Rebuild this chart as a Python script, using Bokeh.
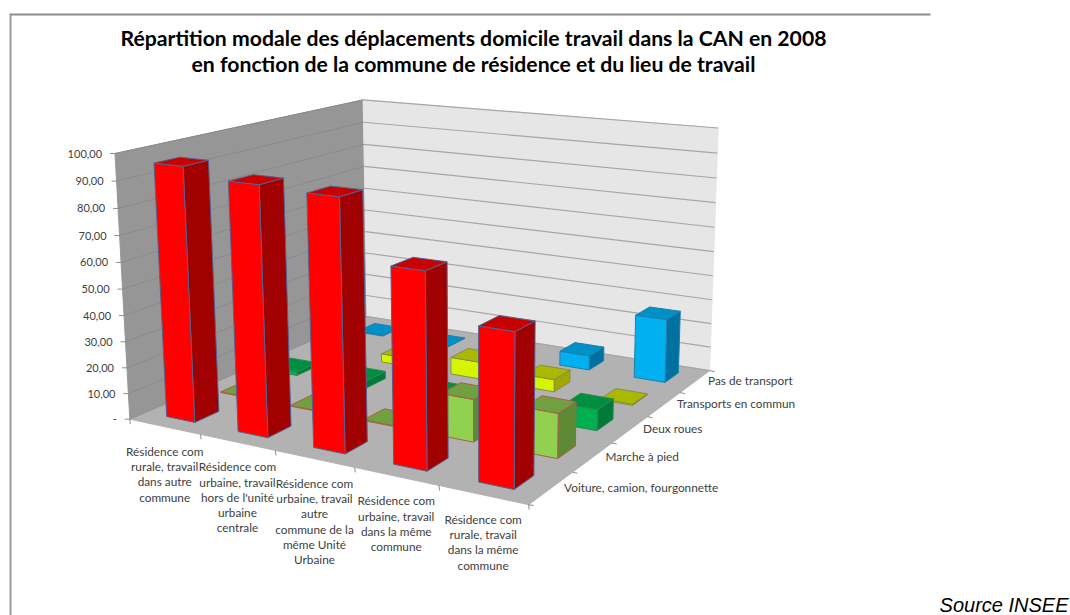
import numpy as np
from bokeh.plotting import figure
from bokeh.embed import file_html
from bokeh.resources import INLINE
from bokeh.core.properties import value

categories = [
    "Résidence com\nrurale, travail\ndans autre\ncommune",
    "Résidence com\nurbaine, travail\nhors de l'unité\nurbaine\ncentrale",
    "Résidence com\nurbaine, travail\nautre\ncommune de la\nmême Unité\nUrbaine",
    "Résidence com\nurbaine, travail\ndans la même\ncommune",
    "Résidence com\nrurale, travail\ndans la même\ncommune",
]
series_names = ["Voiture, camion, fourgonnette", "Marche à pied", "Deux roues",
                "Transports en commun", "Pas de transport"]
voiture = [96.0, 92.5, 91.5, 70.0, 54.0]
marche = [0.3, 0.3, 0.3, 16.0, 16.5]
deux_roues = [1.5, 3.0, 3.0, 2.0, 8.0]
transports = [1.0, 3.5, 7.0, 5.0, 0.5]
pas_de_transport = [0.3, 0.3, 0.3, 6.0, 26.0]
tick_labels = ["-", "10,00", "20,00", "30,00", "40,00", "50,00", "60,00", "70,00", "80,00", "90,00", "100,00"]
tick_values = [0, 10, 20, 30, 40, 50, 60, 70, 80, 90, 100]
title_lines = ["Répartition modale des déplacements domicile travail dans la CAN en 2008",
               "en fonction de la commune de résidence et du lieu de travail"]
source_text = "Source INSEE"

series_values = [voiture, marche, deux_roues, transports, pas_de_transport]
face_colors = [("#FF0000", "#A00000", "#C80000"), ("#92D050", "#5F8A35", "#70A040"),
               ("#00B050", "#007A38", "#008F40"), ("#D4F500", "#A0A800", "#A9B800"),
               ("#00B0F0", "#0070A0", "#0090C8")]
edge_colors = ["#55608F", "#A8604A", "#2E8B57", "#8A8A50", "#2080A8"]

# camera calibration: (category, depth, value) -> page pixel
calib = [((0, 0, 0), (129, 418)), ((0, 0, 100), (115, 153)), ((5, 0, 0), (528, 505)),
         ((0, 5, 0), (367, 317)), ((0, 5, 100), (362, 99)), ((5, 5, 0), (709, 369)),
         ((5, 5, 100), (718, 128))]
A, b = [], []
for (X, Y, Z), (u, v) in calib:
    Z = Z / 20.0
    A.append([X, Y, Z, 1, 0, 0, 0, 0, -u * X, -u * Y, -u * Z]); b.append(u)
    A.append([0, 0, 0, 0, X, Y, Z, 1, -v * X, -v * Y, -v * Z]); b.append(v)
sol = np.linalg.lstsq(np.array(A, float), np.array(b, float), rcond=None)[0]
P = np.append(sol, 1.0).reshape(3, 4)

def proj(x, y, z):
    h = P @ np.array([x, y, z / 20.0, 1.0])
    return h[0] / h[2], h[1] / h[2]

def face(pts):
    q = [proj(*t) for t in pts]
    return [a for a, _ in q], [c for _, c in q]

W, H = 1070, 615
p = figure(width=W, height=H, x_range=(0, W), y_range=(H, 0), toolbar_location=None,
           output_backend="svg", min_border=0, outline_line_color=None)
p.axis.visible = False
p.grid.visible = False
p.xaxis.visible = False
p.yaxis.visible = False

n = len(categories)
m = len(series_names)
# chart frame
p.line([10, 10], [13, 615], line_color="#9A9A9A", line_width=2)
p.line([10, 930], [14, 14], line_color="#8C8C8C", line_width=2)

# walls and floor
def poly(pts, fill, line=None, lw=1):
    xs, ys = face(pts)
    p.patch(xs, ys, fill_color=fill, line_color=line if line else fill, line_width=lw)

poly([(0, 0, 0), (0, m, 0), (0, m, 100), (0, 0, 100)], "#969696")
poly([(0, m, 0), (n, m, 0), (n, m, 100), (0, m, 100)], "#E6E6E6")
poly([(0, 0, 0), (n, 0, 0), (n, m, 0), (0, m, 0)], "#B2B2B2")

for t in tick_values:
    xs, ys = face([(0, 0, t), (0, m, t)])
    p.line(xs, ys, line_color="#8A8A8A", line_width=1)
    xs, ys = face([(0, m, t), (n, m, t)])
    p.line(xs, ys, line_color="#A6A6A6", line_width=1.2)
    x0, y0 = proj(0, 0, t)
    p.line([x0 - 5, x0], [y0, y0], line_color="#8C8C8C", line_width=1)

# ticks along floor edges
for i in range(n + 1):
    x0, y0 = proj(i, 0, 0)
    p.line([x0, x0 + 0.5], [y0, y0 + 5], line_color="#8C8C8C", line_width=1)
for j in range(m + 1):
    x0, y0 = proj(n, j, 0)
    p.line([x0, x0 + 5], [y0, y0 + 1], line_color="#8C8C8C", line_width=1)

# bars, back row first
GX, GY = 0.30, 0.28
for j in range(m - 1, -1, -1):
    vals = series_values[j]
    front, side, top = face_colors[j]
    edge = edge_colors[j]
    for i in range(n):
        x0, x1 = i + GX, i + 1 - GX
        y0, y1 = j + GY, j + 1 - GY
        z = vals[i]
        poly([(x1, y0, 0), (x1, y1, 0), (x1, y1, z), (x1, y0, z)], side, edge)
        poly([(x0, y0, 0), (x1, y0, 0), (x1, y0, z), (x0, y0, z)], front, edge)
        poly([(x0, y0, z), (x1, y0, z), (x1, y1, z), (x0, y1, z)], top, edge)

font = value("Lato")
# value axis labels
lx, ly = [], []
for t in tick_values:
    x0, y0 = proj(0, 0, t)
    lx.append(x0 - 13); ly.append(y0)
p.text(lx, ly, text=tick_labels, text_font=font, text_font_size="11px", text_color="#404040",
       text_align="right", text_baseline="middle")
# category labels
cx, cy = [], []
for i in range(n):
    x0, y0 = proj(i + 0.5, 0, 0)
    cx.append(x0); cy.append(y0 + 17)
p.text(cx, cy, text=categories, text_font=font, text_font_size="11.8px", text_color="#404040",
       text_align="center", text_baseline="top", text_line_height=1.02)
# series labels
sx, sy = [], []
for j in range(m):
    x0, y0 = proj(n, j + 0.5, 0)
    sx.append(x0 + 13); sy.append(y0 - 1)
p.text(sx, sy, text=series_names, text_font=font, text_font_size="11.8px", text_color="#404040",
       text_align="left", text_baseline="middle")
# title
p.text([473, 473], [37, 63], text=title_lines, text_font=font, text_font_style="bold",
       text_font_size="21.2px", text_color="#000000", text_align="center", text_baseline="middle")
p.text([1068], [604], text=[source_text], text_font=value("Liberation Sans"), text_font_style="italic",
       text_font_size="20px", text_color="#000000", text_align="right", text_baseline="middle")

open("out.html", "w").write(file_html(p, INLINE))
